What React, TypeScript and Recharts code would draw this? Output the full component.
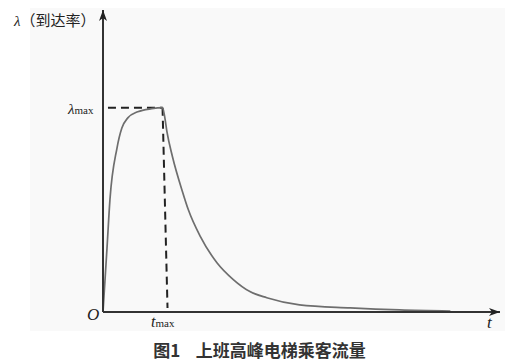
import { LineChart, Line, XAxis, YAxis, ReferenceLine } from 'recharts';

// t in arbitrary units, lambda normalised so that lambda_max = 1
const T_VALUES = [0, 0.4, 0.7, 1.4, 1.9, 2.5, 3.5, 4.9, 6.0, 6.2, 6.45, 7.0, 8.0, 8.6, 9.8, 11.5, 13.1, 14.8, 16.5, 19.8, 24.9, 29.9, 35.0];
const LAMBDA = [0, 0.31, 0.55, 0.8, 0.9, 0.95, 0.98, 0.995, 1.0, 0.96, 0.88, 0.76, 0.59, 0.5, 0.37, 0.24, 0.16, 0.1, 0.07, 0.035, 0.02, 0.01, 0.005];

const T_MAX = 6.0;
const T_MAX_FOOT = 6.5; // the dashed drop line is drawn a little slanted
const LAMBDA_MAX = 1;
const T_END = 40;
const LAMBDA_TOP = 1.478;

const data = T_VALUES.map((t, i) => ({ t, v: LAMBDA[i] }));

const W = 519;
const H = 363;
const serif = '"Liberation Serif", "DejaVu Serif", serif';
const cjk = '"Noto Sans CJK SC", sans-serif';

// axis with an arrow head at the (x2, y2) end
const ArrowLine = (props: any) => {
  const { x1, y1, x2, y2 } = props;
  const horiz = Math.abs(y2 - y1) < Math.abs(x2 - x1);
  const head = horiz
    ? `${x2},${y2} ${x2 - 11},${y2 - 4} ${x2 - 8},${y2} ${x2 - 11},${y2 + 4}`
    : `${x2},${y2} ${x2 - 4},${y2 + 11} ${x2},${y2 + 8} ${x2 + 4},${y2 + 11}`;
  return (
    <g>
      <line x1={x1} y1={y1} x2={x2} y2={y2} stroke="#333" strokeWidth={2} />
      <polygon points={head} fill="#222" />
    </g>
  );
};

export default function App() {
  return (
    <div style={{ position: 'absolute', left: 0, top: 0, width: W, height: H, background: '#fff' }}>
      <div style={{ position: 'absolute', left: 30, top: 8, width: 475, height: 323, background: '#f9f9f9' }} />
      <div style={{ position: 'absolute', left: 0, top: 0 }}>
        <LineChart width={W} height={H} data={data} margin={{ top: 10, right: 19, bottom: 51, left: 103 }}>
          <XAxis dataKey="t" type="number" domain={[0, T_END]} hide allowDataOverflow />
          <YAxis type="number" domain={[0, LAMBDA_TOP]} hide allowDataOverflow />
          <ReferenceLine
            segment={[{ x: 0.5, y: LAMBDA_MAX }, { x: T_MAX, y: LAMBDA_MAX }]}
            stroke="#222"
            strokeWidth={2}
            strokeDasharray="8 5"
            ifOverflow="visible"
          />
          <ReferenceLine
            segment={[{ x: T_MAX, y: LAMBDA_MAX }, { x: T_MAX_FOOT, y: 0.02 }]}
            stroke="#222"
            strokeWidth={2}
            strokeDasharray="8 5"
            ifOverflow="visible"
          />
          <Line
            type="monotone"
            dataKey="v"
            stroke="#6e6e6e"
            strokeWidth={1.7}
            dot={false}
            isAnimationActive={false}
          />
          <ReferenceLine
            segment={[{ x: 0, y: 0 }, { x: T_END, y: 0 }]}
            shape={ArrowLine}
            ifOverflow="visible"
          />
          <ReferenceLine
            segment={[{ x: 0, y: 0 }, { x: 0, y: LAMBDA_TOP }]}
            shape={ArrowLine}
            ifOverflow="visible"
          />
        </LineChart>
      </div>
      {/* text labels */}
      <div style={{ position: 'absolute', left: 14, top: 9, fontSize: 15, color: '#222', whiteSpace: 'nowrap' }}>
        <span style={{ fontFamily: serif, fontStyle: 'italic' }}>λ</span>
        <span style={{ fontFamily: cjk }}>（到达率）</span>
      </div>
      <div style={{ position: 'absolute', left: 68, top: 100, fontFamily: serif, color: '#222', whiteSpace: 'nowrap' }}>
        <span style={{ fontStyle: 'italic', fontSize: 15 }}>λ</span>
        <span style={{ fontSize: 11 }}>max</span>
      </div>
      <div style={{ position: 'absolute', left: 87, top: 305, fontFamily: serif, fontStyle: 'italic', fontSize: 17, color: '#222' }}>O</div>
      <div style={{ position: 'absolute', left: 151, top: 313, fontFamily: serif, color: '#222', whiteSpace: 'nowrap' }}>
        <span style={{ fontStyle: 'italic', fontSize: 16 }}>t</span>
        <span style={{ fontSize: 11 }}>max</span>
      </div>
      <div style={{ position: 'absolute', left: 487, top: 313, fontFamily: serif, fontStyle: 'italic', fontSize: 17, color: '#222' }}>t</div>
      <div style={{ position: 'absolute', left: 0, top: 337, width: W, textAlign: 'center', fontFamily: cjk, fontWeight: 'bold', fontSize: 17, color: '#333', whiteSpace: 'pre' }}>
        {'图1    上班高峰电梯乘客流量'}
      </div>
    </div>
  );
}
